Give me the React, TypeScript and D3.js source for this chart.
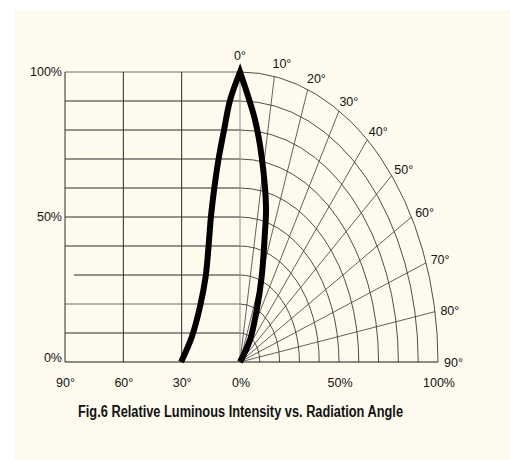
import React from "react";
import * as d3 from "d3";

// Grid levels (relative intensity, %)
const intensityLevels = [10, 20, 30, 40, 50, 60, 70, 80, 90, 100];
// Left rectangular grid angle columns
const leftAngleTicks = [90, 60, 30];
// Radial lines (degrees)
const radialAngles = [10, 20, 30, 40, 50, 60, 70, 80];
const radialLabels = ["10°", "20°", "30°", "40°", "50°", "60°", "70°", "80°", "90°"];
const radialLabelAngles = [10, 20, 30, 40, 50, 60, 70, 80, 90];

// Bottom axis labels
const leftAxisLabels = ["90°", "60°", "30°"];
const leftAxisValues = [90, 60, 30];
const rightAxisLabels = ["0%", "50%", "100%"];
const rightAxisValues = [0, 50, 100];
const yAxisLabels = ["100%", "50%", "0%"];
const yAxisValues = [100, 50, 0];

// Left curve: angle (deg) vs relative intensity (%) on rectangular grid
const leftCurveAngle = [30.3, 24.8, 20.6, 17.7, 16.2, 15.0, 13.2, 11.1, 8.2, 5.1, 0];
const leftCurveIntensity = [0, 8.6, 19, 29.3, 39.7, 49.7, 60, 69.7, 80, 90.3, 100];

// Right curve: polar angle (deg) vs relative intensity (%)
const polarCurveAngle = [0, 5.2, 8.8, 13.8, 15.8, 20.4, 25.2, 33.6, 40];
const polarCurveIntensity = [100, 83.8, 71.6, 55.1, 46.2, 31.4, 19.8, 9.1, 0];

const title = "Fig.6 Relative Luminous Intensity vs. Radiation Angle";

const W = 510;
const H = 460;
const cx = 240;
const cy = 362;

const xAngle = d3.scaleLinear().domain([90, 0]).range([65, 240]);
const yInt = d3.scaleLinear().domain([0, 100]).range([362, 72]);
const rX = d3.scaleLinear().domain([0, 100]).range([0, 198]);
const rY = d3.scaleLinear().domain([0, 100]).range([0, 290]);

const rad = (deg: number) => (deg * Math.PI) / 180;
const polar = (deg: number, r: number): [number, number] => [
  cx + rX(r) * Math.sin(rad(deg)),
  cy - rY(r) * Math.cos(rad(deg)),
];

const labelFont = "'Liberation Sans Narrow', 'Arial Narrow', 'Liberation Sans', Arial, sans-serif";

export default function App() {
  const lineGen = d3
    .line<[number, number]>()
    .x((d) => d[0])
    .y((d) => d[1])
    .curve(d3.curveCatmullRom.alpha(0.5));

  const leftPts: [number, number][] = leftCurveAngle.map((a, i) => [
    xAngle(a),
    yInt(leftCurveIntensity[i]),
  ]);
  const rightPts: [number, number][] = polarCurveAngle.map((a, i) =>
    polar(a, polarCurveIntensity[i])
  );
  const leftPath = lineGen(leftPts) || "";
  const rightPath = (lineGen(rightPts) || "").replace(/^M/, "L");
  const curvePath = leftPath + rightPath;

  const arcPath = (level: number) => {
    const [x0, y0] = polar(0, level);
    const [x1, y1] = polar(90, level);
    return `M${x0},${y0}A${rX(level)},${rY(level)} 0 0 1 ${x1},${y1}`;
  };

  return (
    <svg
      width={W}
      height={H}
      style={{ position: "absolute", left: 0, top: 0 }}
      xmlns="http://www.w3.org/2000/svg"
    >
      <rect x={0} y={0} width={W} height={H} fill="#ffffff" />
      <rect x={15} y={10} width={W - 15} height={H - 10} fill="#fefbee" />

      {/* left rectangular grid */}
      {intensityLevels.map((lv) => (
        <line
          key={"h" + lv}
          x1={lv === 30 ? xAngle(85.4) : xAngle(90)}
          x2={cx}
          y1={yInt(lv)}
          y2={yInt(lv)}
          stroke={lv === 20 || lv === 100 ? "#6a6a6a" : "#2a2a2a"}
          strokeWidth={1}
        />
      ))}
      {leftAngleTicks.map((a) => (
        <line
          key={"v" + a}
          x1={xAngle(a)}
          x2={xAngle(a)}
          y1={yInt(100)}
          y2={yInt(0)}
          stroke="#2a2a2a"
          strokeWidth={1}
        />
      ))}

      {/* polar grid arcs */}
      {intensityLevels.map((lv) => (
        <path
          key={"a" + lv}
          d={arcPath(lv)}
          fill="none"
          stroke="#3a3a3a"
          strokeWidth={0.9}
        />
      ))}
      {radialAngles.map((a) => {
        const [x, y] = polar(a, 100);
        return (
          <line
            key={"r" + a}
            x1={cx}
            y1={cy}
            x2={x}
            y2={y}
            stroke="#3a3a3a"
            strokeWidth={0.8}
          />
        );
      })}
      <line x1={cx} y1={yInt(100)} x2={cx} y2={cy} stroke="#8a8a8a" strokeWidth={1} />
      <line x1={xAngle(90)} y1={cy} x2={cx + rX(100)} y2={cy} stroke="#1a1a1a" strokeWidth={1.2} />

      {/* curve */}
      <path
        d={curvePath}
        fill="none"
        stroke="#000"
        strokeWidth={6}
        strokeLinejoin="miter"
        strokeMiterlimit={10}
        strokeLinecap="butt"
      />

      {/* labels */}
      <g fontFamily={labelFont} fontSize={12.5} fill="#111">
        <text x={cx} y={60} textAnchor="middle">0°</text>
        {yAxisLabels.map((t, i) => (
          <text key={t} x={62} y={yInt(yAxisValues[i]) + (i === 2 ? 0 : 4)} textAnchor="end">
            {t}
          </text>
        ))}
        {leftAxisLabels.map((t, i) => (
          <text key={t} x={xAngle(leftAxisValues[i]) + 0.5} y={387} textAnchor="middle">
            {t}
          </text>
        ))}
        {rightAxisLabels.map((t, i) => (
          <text key={t} x={cx + rX(rightAxisValues[i]) + 1} y={387} textAnchor="middle">
            {t}
          </text>
        ))}
        {radialLabels.map((t, i) => {
          const a = radialLabelAngles[i];
          const [x, y] = polar(a, 100);
          const s = Math.sin(rad(a));
          const c = Math.cos(rad(a));
          return (
            <text key={t} x={x - 3 * c + 6 * s} y={y - 9 * c + 5 * s}>
              {t}
            </text>
          );
        })}
      </g>

      <text
        x={78}
        y={417}
        fontFamily={labelFont}
        fontWeight="bold"
        fontSize={16}
        textLength={325}
        lengthAdjust="spacingAndGlyphs"
        fill="#111"
      >
        {title}
      </text>
    </svg>
  );
}
